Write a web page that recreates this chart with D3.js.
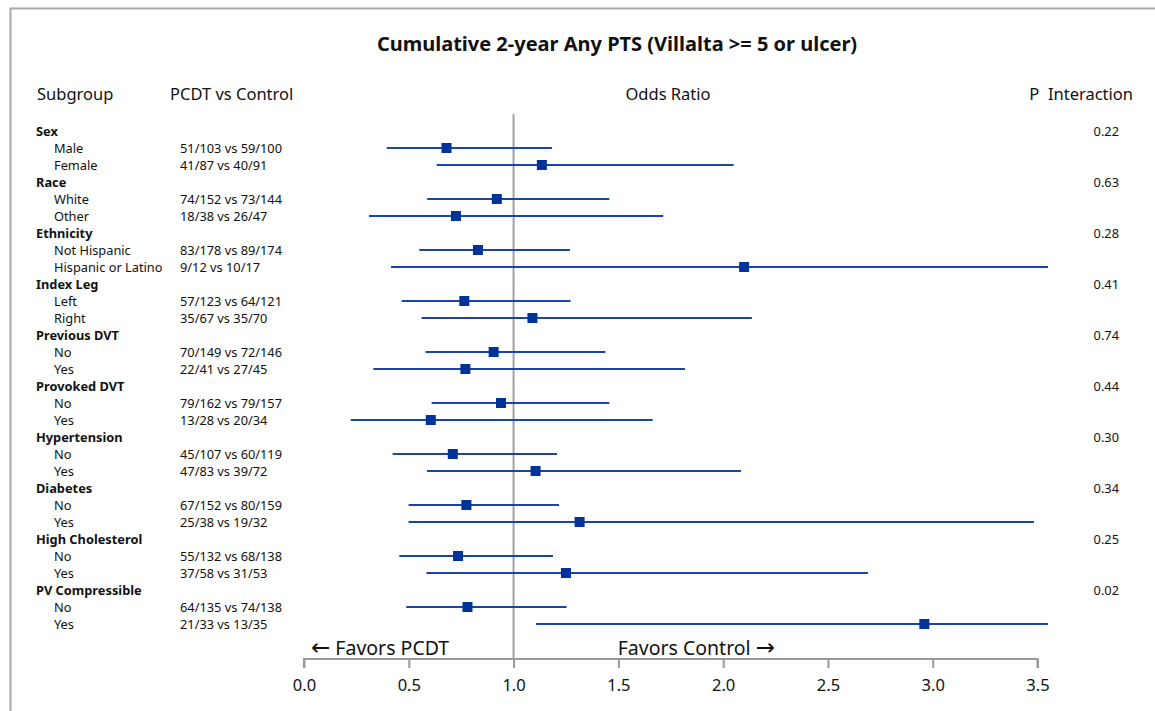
<!DOCTYPE html>
<html>
<head>
<meta charset="utf-8">
<script src="https://cdn.jsdelivr.net/npm/d3@7"></script>
<style>
  body { margin: 0; background: #fff; }
  svg text { font-family: "Noto Sans", "Open Sans", sans-serif; fill: #111; }
</style>
</head>
<body>
<div id="chart"></div>
<script>
// rows top to bottom; group headers have no estimate
const labels = ["Sex", "Male", "Female", "Race", "White", "Other", "Ethnicity", "Not Hispanic", "Hispanic or Latino",
  "Index Leg", "Left", "Right", "Previous DVT", "No", "Yes", "Provoked DVT", "No", "Yes",
  "Hypertension", "No", "Yes", "Diabetes", "No", "Yes", "High Cholesterol", "No", "Yes",
  "PV Compressible", "No", "Yes"];
const isGroup = [1,0,0, 1,0,0, 1,0,0, 1,0,0, 1,0,0, 1,0,0, 1,0,0, 1,0,0, 1,0,0, 1,0,0];
const counts = ["", "51/103 vs 59/100", "41/87 vs 40/91", "", "74/152 vs 73/144", "18/38 vs 26/47",
  "", "83/178 vs 89/174", "9/12 vs 10/17", "", "57/123 vs 64/121", "35/67 vs 35/70",
  "", "70/149 vs 72/146", "22/41 vs 27/45", "", "79/162 vs 79/157", "13/28 vs 20/34",
  "", "45/107 vs 60/119", "47/83 vs 39/72", "", "67/152 vs 80/159", "25/38 vs 19/32",
  "", "55/132 vs 68/138", "37/58 vs 31/53", "", "64/135 vs 74/138", "21/33 vs 13/35"];
const oddsRatio = [null, 0.68, 1.135, null, 0.92, 0.725, null, 0.83, 2.10, null, 0.765, 1.09,
  null, 0.905, 0.77, null, 0.94, 0.605, null, 0.71, 1.105, null, 0.775, 1.315,
  null, 0.735, 1.25, null, 0.78, 2.96];
const lower = [null, 0.395, 0.633, null, 0.588, 0.31, null, 0.55, 0.415, null, 0.466, 0.561,
  null, 0.58, 0.331, null, 0.609, 0.223, null, 0.423, 0.587, null, 0.499, 0.499,
  null, 0.455, 0.584, null, 0.488, 1.107];
const upper = [null, 1.183, 2.05, null, 1.457, 1.714, null, 1.269, 4.6, null, 1.272, 2.137,
  null, 1.438, 1.818, null, 1.457, 1.664, null, 1.207, 2.085, null, 1.217, 3.483,
  null, 1.188, 2.691, null, 1.253, 5.2];
const pInteraction = ["0.22", "", "", "0.63", "", "", "0.28", "", "", "0.41", "", "", "0.74", "", "",
  "0.44", "", "", "0.30", "", "", "0.34", "", "", "0.25", "", "", "0.02", "", ""];
const xTicks = [0, 0.5, 1, 1.5, 2, 2.5, 3, 3.5];

const W = 1155, H = 711;
const svg = d3.select("#chart").append("svg").attr("width", W).attr("height", H);

// frame
svg.append("path").attr("d", "M10.5,711 V8.5 H1155")
  .attr("fill", "none").attr("stroke", "#a8a8a8").attr("stroke-width", 2);

const x = d3.scaleLinear().domain([0, 3.55]).range([304, 1048]);
const y = d3.scaleLinear().domain([0, labels.length - 1]).range([131, 624]);

svg.append("text").attr("x", 617).attr("y", 51).attr("text-anchor", "middle")
  .style("font-size", "20px").style("font-weight", "bold")
  .text("Cumulative 2-year Any PTS (Villalta >= 5 or ulcer)");

const hdr = svg.append("g").style("font-size", "16.5px");
hdr.append("text").attr("x", 37).attr("y", 100).text("Subgroup");
hdr.append("text").attr("x", 170).attr("y", 100).text("PCDT vs Control");
hdr.append("text").attr("x", 668).attr("y", 100).attr("text-anchor", "middle").text("Odds Ratio");
hdr.append("text").attr("x", 1133).attr("y", 100).attr("text-anchor", "end")
  .attr("xml:space", "preserve").text("P  Interaction");

const rows = labels.map((l, i) => ({ label: l, group: isGroup[i], count: counts[i],
  or: oddsRatio[i], lo: lower[i], hi: upper[i], p: pInteraction[i], i: i }));

const txt = svg.append("g").style("font-size", "12.8px");
txt.selectAll(".lab").data(rows).join("text")
  .attr("x", d => d.group ? 36 : 54).attr("y", d => y(d.i)).attr("dy", "0.4em")
  .style("font-weight", d => d.group ? "bold" : "normal")
  .text(d => d.label);
txt.selectAll(".cnt").data(rows.filter(d => d.count)).join("text")
  .attr("x", 180).attr("y", d => y(d.i)).attr("dy", "0.4em").text(d => d.count);
txt.selectAll(".pv").data(rows.filter(d => d.p)).join("text")
  .attr("x", 1119).attr("y", d => y(d.i)).attr("dy", "0.4em").attr("text-anchor", "end")
  .text(d => d.p);

// axis
const axisY = 659;
svg.append("line").attr("x1", x(1)).attr("x2", x(1)).attr("y1", 114).attr("y2", axisY)
  .attr("stroke", "#a0a0a0").attr("stroke-width", 2);

const ax = svg.append("g").attr("transform", `translate(0,${axisY})`)
  .call(d3.axisBottom(x).tickValues(xTicks).tickFormat(d3.format(".1f")).tickSize(9).tickSizeOuter(0));
ax.select(".domain").attr("d", `M${x(0)},9V0H${x(3.5)}V9`).attr("stroke", "#999").attr("stroke-width", 2);
ax.selectAll(".tick line").attr("stroke", "#999").attr("stroke-width", 2);
ax.selectAll(".tick text").attr("y", 20).style("font-size", "16.5px")
  .style("font-family", "'Noto Sans', sans-serif").attr("fill", "#111");

const fav1 = svg.append("text").attr("x", 311).attr("y", 655).style("font-size", "19.5px");
fav1.append("tspan").style("font-family", "'DejaVu Sans', sans-serif").style("font-size", "23px").text("\u2190");
fav1.append("tspan").text(" Favors PCDT");
const fav2 = svg.append("text").attr("x", 775).attr("y", 655).attr("text-anchor", "end").style("font-size", "19.5px");
fav2.append("tspan").text("Favors Control ");
fav2.append("tspan").style("font-family", "'DejaVu Sans', sans-serif").style("font-size", "23px").text("\u2192");

// CI lines and estimates
svg.append("clipPath").attr("id", "plotclip").append("rect")
  .attr("x", 300).attr("y", 110).attr("width", x(3.55) - 300).attr("height", 540);
const plot = svg.append("g").attr("clip-path", "url(#plotclip)");
const est = rows.filter(d => d.or !== null);
plot.selectAll(".ci").data(est).join("line")
  .attr("x1", d => x(d.lo)).attr("x2", d => x(d.hi))
  .attr("y1", d => y(d.i)).attr("y2", d => y(d.i))
  .attr("stroke", "#1c43a6").attr("stroke-width", 2);
plot.selectAll(".mk").data(est).join("rect")
  .attr("x", d => x(d.or) - 5).attr("y", d => y(d.i) - 5)
  .attr("width", 10).attr("height", 10).attr("fill", "#00339a");
</script>
</body>
</html>
